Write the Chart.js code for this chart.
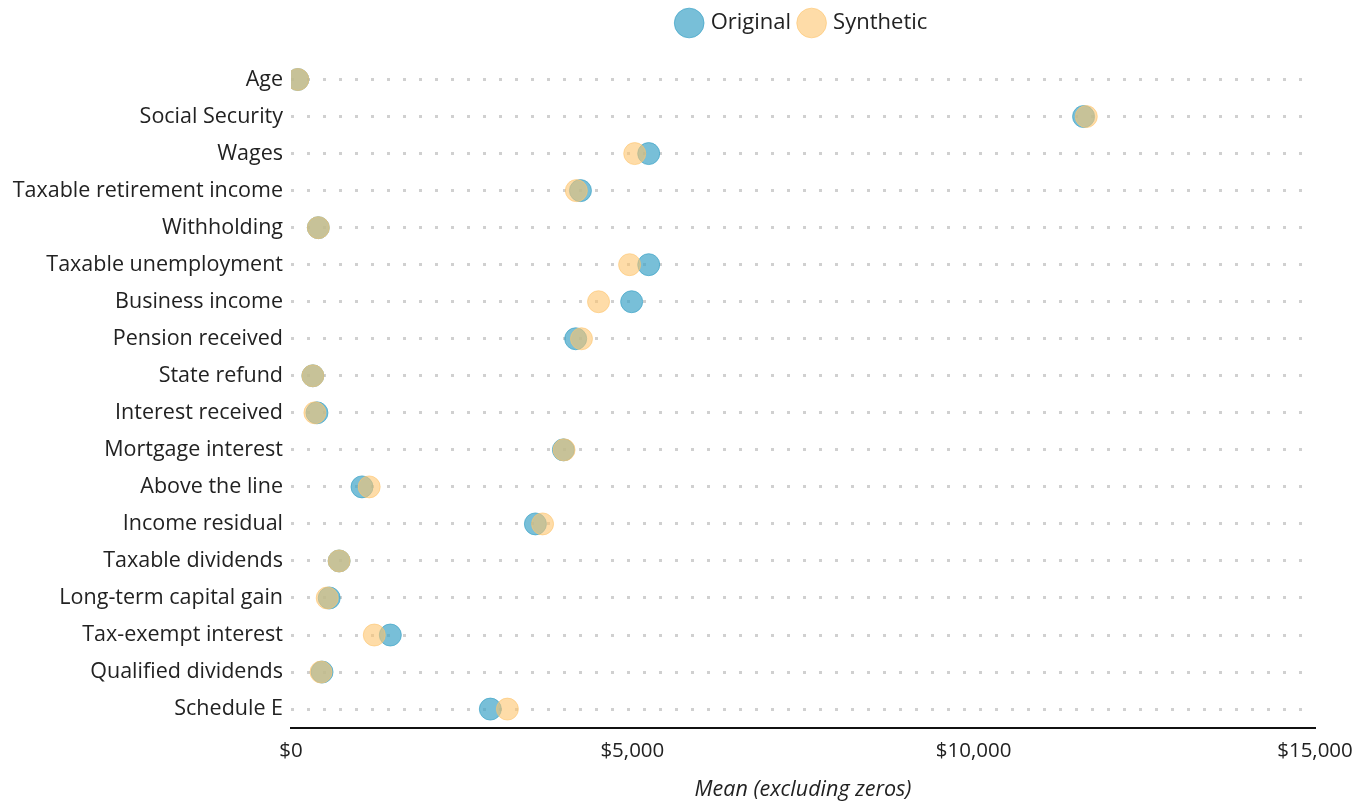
<!DOCTYPE html>
<html>
<head>
<meta charset="utf-8">
<script src="https://cdn.jsdelivr.net/npm/chart.js@4"></script>
<style>
  html, body { margin: 0; padding: 0; background: #fff; }
  .wrap { position: relative; width: 1369px; height: 803px; }
</style>
</head>
<body>
<div class="wrap"><canvas id="c"></canvas></div>
<script>
const CATEGORIES = ['Age','Social Security','Wages','Taxable retirement income','Withholding',
  'Taxable unemployment','Business income','Pension received','State refund','Interest received',
  'Mortgage interest','Above the line','Income residual','Taxable dividends','Long-term capital gain',
  'Tax-exempt interest','Qualified dividends','Schedule E'];
const ORIGINAL  = [100, 11610, 5240, 4240, 400, 5240, 4990, 4170, 320, 380, 3990, 1040, 3580, 705, 560, 1455, 455, 2920];
const SYNTHETIC = [100, 11650, 5035, 4180, 400, 4960, 4505, 4255, 320, 350, 4000, 1145, 3685, 705, 530, 1220, 440, 3170];
const X_TICKS = [0, 5000, 10000, 15000];

const pts = vals => vals.map((v, i) => ({ x: v, y: CATEGORIES[i] }));
const FONT = '"Open Sans", Lato, sans-serif';
const PAD_LEFT = 8;

// extra room between legend and plot
const legendGap = {
  id: 'legendGap',
  beforeInit(chart) {
    const fit = chart.legend.fit;
    chart.legend.fit = function () { fit.call(this); this.height += 17; };
  }
};

new Chart(document.getElementById('c'), {
  type: 'scatter',
  plugins: [legendGap],
  data: {
    datasets: [
      // order: higher is drawn first, so synthetic sits on top of original
      { label: 'Original', data: pts(ORIGINAL), order: 1,
        backgroundColor: 'rgba(62,164,200,0.7)', borderColor: 'rgba(62,164,200,0.7)',
        borderWidth: 1, pointRadius: 11, pointHoverRadius: 11 },
      { label: 'Synthetic', data: pts(SYNTHETIC), order: 0,
        backgroundColor: 'rgba(253,196,110,0.6)', borderColor: 'rgba(253,196,110,0.6)',
        borderWidth: 1, pointRadius: 11, pointHoverRadius: 11 }
    ]
  },
  options: {
    responsive: true,
    maintainAspectRatio: false,
    animation: false,
    layout: { padding: { left: PAD_LEFT, right: 54, top: 2, bottom: 0 } },
    plugins: {
      legend: {
        position: 'top',
        fullSize: false,
        labels: { usePointStyle: true, pointStyle: 'circle', boxWidth: 21, boxHeight: 21,
                  padding: 10, color: '#222', font: { family: FONT, size: 22 },
                  sort: (a, b) => a.datasetIndex - b.datasetIndex }
      },
      tooltip: { enabled: false }
    },
    scales: {
      x: {
        type: 'linear', min: 0, max: 15000,
        afterBuildTicks: ax => { ax.ticks = X_TICKS.map(v => ({ value: v })); },
        grid: { display: false },
        border: { display: true, color: '#111', width: 2 },
        ticks: { color: '#222', padding: 3, font: { family: FONT, size: 20.5 },
                 callback: v => '$' + v.toLocaleString('en-US') },
        title: { display: true, text: 'Mean (excluding zeros)', color: '#222', padding: { top: 11, bottom: 0 },
                 font: { family: FONT, size: 21.5, style: 'italic' } }
      },
      y: {
        type: 'category', labels: CATEGORIES, offset: true,
        afterFit: s => { s.width = 291 - PAD_LEFT; },
        grid: { offset: false, color: '#d0d0d0', lineWidth: 3, drawTicks: false },
        border: { display: false, dash: [3, 13] },
        ticks: { color: '#222', padding: 8, font: { family: FONT, size: 21.5 } }
      }
    }
  }
});
</script>
</body>
</html>
